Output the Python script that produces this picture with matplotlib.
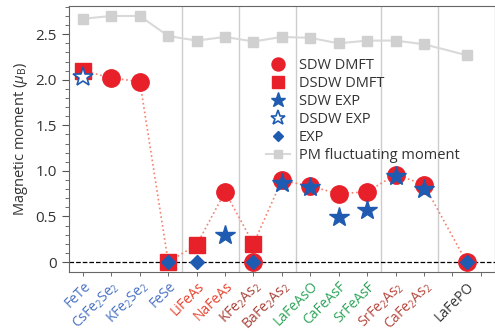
import matplotlib
matplotlib.use('Agg')
import matplotlib.pyplot as plt
import numpy as np

plt.rcParams['font.family'] = ['Open Sans', 'DejaVu Sans']
plt.rcParams['mathtext.fontset'] = 'custom'
plt.rcParams['mathtext.rm'] = 'Open Sans'
plt.rcParams['mathtext.it'] = 'Open Sans:italic'

compounds = ['FeTe', r'CsFe$_2$Se$_2$', r'KFe$_2$Se$_2$', 'FeSe', 'LiFeAs', 'NaFeAs',
             r'KFe$_2$As$_2$', r'BaFe$_2$As$_2$', 'LaFeAsO', 'CaFeAsF', 'SrFeAsF',
             r'SrFe$_2$As$_2$', r'CaFe$_2$As$_2$', 'LaFePO']
xpos = [0, 1, 2, 3, 4, 5, 6, 7, 8, 9, 10, 11, 12, 13.5]
label_colors = ['#4a72c4'] * 4 + ['#e8442e'] * 2 + ['#a8433a'] * 2 + ['#2ea55a'] * 3 + ['#b5463c'] * 2 + ['#333333']

pm_moment = [2.67, 2.70, 2.70, 2.48, 2.43, 2.47, 2.42, 2.47, 2.46, 2.40, 2.43, 2.43, 2.39, 2.27]
# DMFT value per compound (circle or square), joined by the dotted line
dmft_line = [2.10, 2.02, 1.98, 0.0, 0.19, 0.77, 0.20, 0.90, 0.83, 0.75, 0.77, 0.96, 0.85, 0.0]

sdw_dmft_x = [1, 2, 5, 6, 7, 8, 9, 10, 11, 12, 13.5]
sdw_dmft_y = [2.02, 1.98, 0.77, 0.0, 0.90, 0.83, 0.75, 0.77, 0.96, 0.85, 0.0]
dsdw_dmft_x = [0, 3, 4, 6]
dsdw_dmft_y = [2.10, 0.0, 0.19, 0.20]
sdw_exp_x = [5, 7, 8, 9, 10, 11, 12]
sdw_exp_y = [0.30, 0.87, 0.82, 0.49, 0.57, 0.94, 0.80]
dsdw_exp_x = [0]
dsdw_exp_y = [2.03]
exp_x = [3, 4, 6, 13.5]
exp_y = [0.0, 0.0, 0.0, 0.0]

red = '#e8202a'
blue = '#1f5bb0'

fig = plt.figure(figsize=(4.95, 3.31), dpi=100)
ax = fig.add_axes([0.139, 0.178, 0.861, 0.804])

for xv in [3.5, 5.5, 7.5, 10.5, 12.5]:
    ax.axvline(xv, color='#cccccc', lw=1, zorder=0)
ax.axhline(0, color='black', ls='--', lw=0.9, zorder=1)

ax.plot(xpos, pm_moment, '-s', color='#d9d9d9', mfc='#d0d0d0', mec='#d0d0d0', ms=7, lw=1.5,
        label='PM fluctuating moment', zorder=2)
ax.plot(xpos, dmft_line, ':', color='#f4826e', lw=1.2, zorder=2)

ax.plot(sdw_dmft_x, sdw_dmft_y, 'o', color=red, ms=12.5, ls='none', label='SDW DMFT', zorder=3)
ax.plot(dsdw_dmft_x, dsdw_dmft_y, 's', color=red, ms=11, ls='none', label='DSDW DMFT', zorder=3)
ax.plot(sdw_exp_x, sdw_exp_y, '*', color=blue, ms=15, ls='none', label='SDW EXP', zorder=4)
ax.plot(dsdw_exp_x, dsdw_exp_y, '*', mfc='white', mec=blue, mew=1.2, ms=15, ls='none',
        label='DSDW EXP', zorder=4)
ax.plot(exp_x, exp_y, 'D', color=blue, ms=7, ls='none', label='EXP', zorder=4)

ax.set_xlim(-0.5, 14.5)
ax.set_ylim(-0.11, 2.81)
ax.set_yticks([0, 0.5, 1.0, 1.5, 2.0, 2.5])
ax.set_yticklabels(['0', '0.5', '1.0', '1.5', '2.0', '2.5'])
ax.set_yticks(np.arange(0, 2.81, 0.1), minor=True)
ax.tick_params(axis='y', which='major', length=5, color='#555555', labelsize=11, labelcolor='#333333')
ax.tick_params(axis='y', which='minor', length=3, color='#555555')

ax.xaxis.remove_overlapping_locs = False
ax.set_xticks(xpos)
ax.set_xticklabels(compounds, rotation=45, ha='right', rotation_mode='anchor', fontsize=10)
ax.set_xticks(np.arange(0, 15), minor=True)
ax.tick_params(axis='x', which='major', length=0, pad=5)
ax.tick_params(axis='x', which='minor', length=3, color='#555555')
for lbl, c in zip(ax.get_xticklabels(), label_colors):
    lbl.set_color(c)

ax.set_ylabel(r'Magnetic moment ($\mu_{\mathrm{B}}$)', fontsize=10.5, color='#333333')
for s in ax.spines.values():
    s.set_color('#666666')

handles, labels = ax.get_legend_handles_labels()
order = [1, 2, 3, 4, 5, 0]
leg = ax.legend([handles[i] for i in order], [labels[i] for i in order],
                loc='upper left', bbox_to_anchor=(0.45, 0.825), frameon=False,
                fontsize=10.5, handlelength=1.6, handletextpad=0.6, labelspacing=0.2,
                borderaxespad=0, markerscale=0.75)
for t in leg.get_texts():
    t.set_color('#333333')

fig.savefig('out.png', dpi=100)
